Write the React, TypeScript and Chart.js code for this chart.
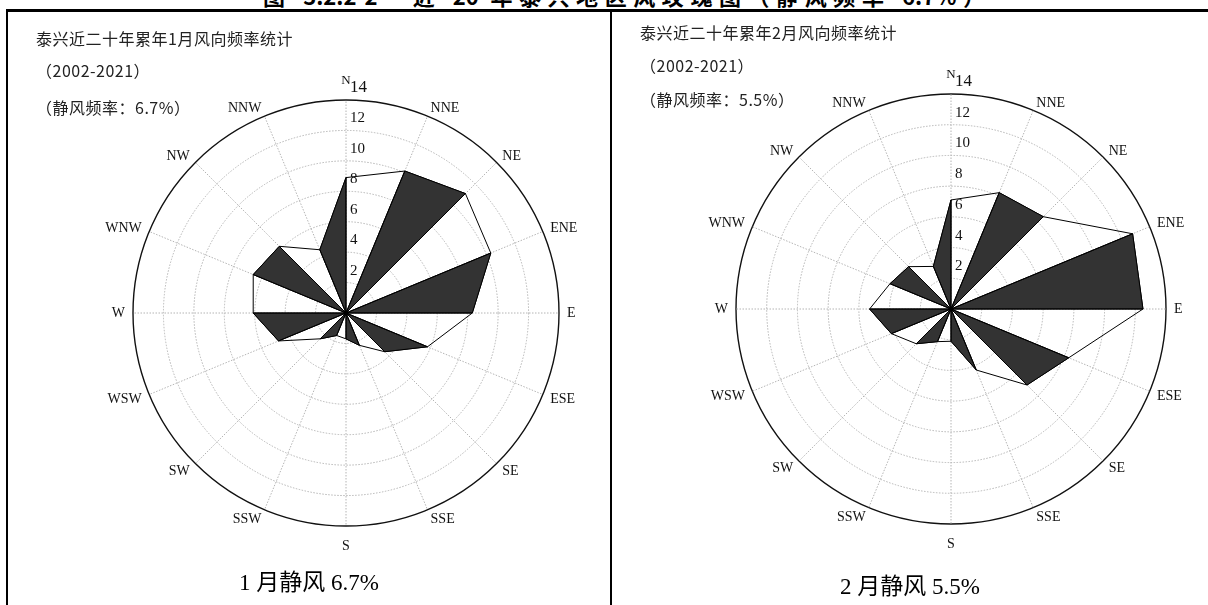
import React, { useEffect, useRef } from "react";
import { Chart, registerables } from "chart.js";

Chart.register(...registerables);

// 16 compass sectors, clockwise from north
const DIRECTIONS = ["N", "NNE", "NE", "ENE", "E", "ESE", "SE", "SSE", "S", "SSW", "SW", "WSW", "W", "WNW", "NW", "NNW"];
// Wind direction frequency (%), Taixing 2002-2021
const JAN_FREQ = [8.9, 10.1, 11.1, 10.3, 8.3, 5.8, 3.6, 2.3, 1.7, 1.6, 2.4, 4.8, 6.1, 6.6, 6.2, 4.5];
const FEB_FREQ = [7.1, 8.2, 8.5, 12.8, 12.5, 8.3, 7.0, 4.3, 2.1, 2.3, 3.2, 4.2, 5.3, 4.3, 3.9, 3.0];
const RING_TICKS = [2, 4, 6, 8, 10, 12, 14];
const AXIS_MAX = 14;
const JAN_CALM = "6.7%";
const FEB_CALM = "5.5%";

const LABEL_FONT = '14px "Liberation Serif", "DejaVu Serif", serif';
const TICK_FONT = '15px "Liberation Serif", "DejaVu Serif", serif';
const CJK = '"Noto Sans CJK SC", "Noto Sans", sans-serif';
const GRID_GREY = "#b4b4b4";

// Alternate sectors filled dark, ring values and compass labels
const roseMarks = {
  id: "roseMarks",
  afterDatasetsDraw(chart: any) {
    const scale = chart.scales.r;
    const values = chart.data.datasets[0].data as number[];
    const ctx = chart.ctx as CanvasRenderingContext2D;
    const n = values.length;
    ctx.save();
    ctx.lineWidth = 1;
    ctx.strokeStyle = "#000";
    ctx.fillStyle = "#333";
    for (let i = 1; i < n; i += 2) {
      const j = (i + 1) % n;
      const a = scale.getPointPositionForValue(i, values[i]);
      const b = scale.getPointPositionForValue(j, values[j]);
      ctx.beginPath();
      ctx.moveTo(scale.xCenter, scale.yCenter);
      ctx.lineTo(a.x, a.y);
      ctx.lineTo(b.x, b.y);
      ctx.closePath();
      ctx.fill();
      ctx.stroke();
    }
    // rays from the centre to every vertex
    ctx.beginPath();
    for (let i = 0; i < n; i++) {
      const p = scale.getPointPositionForValue(i, values[i]);
      ctx.moveTo(scale.xCenter, scale.yCenter);
      ctx.lineTo(p.x, p.y);
    }
    ctx.stroke();
    ctx.beginPath();
    ctx.arc(scale.xCenter, scale.yCenter, 2.5, 0, Math.PI * 2);
    ctx.fillStyle = "#000";
    ctx.fill();
    ctx.restore();
  },
  afterDraw(chart: any) {
    const scale = chart.scales.r;
    const ctx = chart.ctx as CanvasRenderingContext2D;
    const R = scale.drawingArea;
    const cx = scale.xCenter;
    const cy = scale.yCenter;
    ctx.save();
    // ring values, just right of the north spoke
    ctx.fillStyle = "#111";
    ctx.textAlign = "left";
    ctx.textBaseline = "middle";
    RING_TICKS.forEach((v) => {
      const d = scale.getDistanceFromCenterForValue(v);
      ctx.font = v === AXIS_MAX ? '17px "Liberation Serif", serif' : TICK_FONT;
      ctx.fillText(String(v), cx + 4, cy - d - 12);
    });
    // compass labels
    ctx.fillStyle = "#111";
    ctx.font = LABEL_FONT;
    const labels = chart.data.labels as string[];
    labels.forEach((lab, i) => {
      const deg = (i * 360) / labels.length;
      if (deg === 0) {
        ctx.textAlign = "center";
        ctx.textBaseline = "middle";
        ctx.font = '13px "Liberation Serif", serif';
        ctx.fillText(lab, cx, cy - R - 19);
        ctx.font = LABEL_FONT;
        return;
      }
      if (deg === 180) {
        ctx.textAlign = "center";
        ctx.textBaseline = "middle";
        ctx.fillText(lab, cx, cy + R + 20);
        return;
      }
      const p = scale.getPointPosition(i, R + 8);
      ctx.textAlign = deg < 180 ? "left" : "right";
      ctx.textBaseline = "middle";
      const dy = deg > 90 && deg < 270 ? 2 : 0;
      ctx.fillText(lab, p.x, p.y + dy);
    });
    ctx.restore();
  },
};

type RoseProps = {
  values: number[];
  left: number;
  top: number;
  width: number;
  height: number;
  cx: number;
  cy: number;
  radius: number;
};

function WindRose({ values, left, top, width, height, cx, cy, radius }: RoseProps) {
  const ref = useRef<HTMLCanvasElement | null>(null);
  useEffect(() => {
    if (!ref.current) return;
    const chart = new Chart(ref.current, {
      type: "radar",
      data: {
        labels: DIRECTIONS,
        datasets: [
          {
            data: values,
            borderColor: "#000",
            borderWidth: 1,
            backgroundColor: "rgba(0,0,0,0)",
            fill: false,
            pointRadius: 0,
            pointHoverRadius: 0,
            tension: 0,
          },
        ],
      },
      options: {
        responsive: false,
        animation: false,
        events: [],
        layout: {
          padding: {
            left: cx - radius,
            top: cy - radius,
            right: width - cx - radius,
            bottom: height - cy - radius,
          },
        },
        plugins: {
          legend: { display: false },
          tooltip: { enabled: false },
          title: { display: false },
        },
        scales: {
          r: {
            min: 0,
            max: AXIS_MAX,
            ticks: { display: false, stepSize: 2 },
            pointLabels: { display: false },
            grid: {
              circular: true,
              color: (c: any) => (c.tick && c.tick.value === AXIS_MAX ? "#111" : GRID_GREY),
              lineWidth: (c: any) => (c.tick && c.tick.value === AXIS_MAX ? 1.4 : 1),
            },
            border: {
              dash: (c: any) => (c.tick && c.tick.value === AXIS_MAX ? [] : [1.5, 1.5]),
            },
            angleLines: { color: GRID_GREY, lineWidth: 1, borderDash: [1.5, 1.5] },
          },
        },
      } as any,
      plugins: [roseMarks as any],
    });
    return () => chart.destroy();
  }, [values, width, height, cx, cy, radius]);
  return (
    <canvas
      ref={ref}
      width={width}
      height={height}
      style={{ position: "absolute", left, top, width, height }}
    />
  );
}

const txt = (left: number, top: number, s: string) => (
  <div
    style={{
      position: "absolute",
      left,
      top,
      fontFamily: CJK,
      fontSize: 16,
      lineHeight: "16px",
      letterSpacing: 0.5,
      color: "#222",
      whiteSpace: "nowrap",
    }}
  >
    {s}
  </div>
);

const captionStyle = (left: number, width: number, top: number): React.CSSProperties => ({
  position: "absolute",
  left,
  width,
  top,
  textAlign: "center",
  fontFamily: '"Liberation Serif", "Noto Sans CJK SC", serif',
  fontSize: 23,
  lineHeight: "26px",
  color: "#000",
});

export default function App() {
  return (
    <div
      style={{
        position: "fixed",
        left: 0,
        top: 0,
        width: 1208,
        height: 605,
        background: "#fff",
        overflow: "hidden",
      }}
    >
      {/* figure title, mostly cut off by the page top */}
      <div
        style={{
          position: "absolute",
          left: 263,
          width: 722,
          top: -16,
          fontFamily: CJK,
          fontWeight: 700,
          fontSize: 22,
          lineHeight: "22px",
          color: "#000",
          textAlign: "justify",
          textAlignLast: "justify",
          whiteSpace: "nowrap",
        }}
      >
        图 3.2.2-2　近 20 年泰兴地区风玫瑰图（静风频率 6.7%）
      </div>

      {/* table rules */}
      <div style={{ position: "absolute", left: 6, top: 9, width: 1202, height: 3, background: "#000" }} />
      <div style={{ position: "absolute", left: 6, top: 9, width: 2, height: 596, background: "#000" }} />
      <div style={{ position: "absolute", left: 610, top: 9, width: 2, height: 596, background: "#000" }} />

      <WindRose values={JAN_FREQ} left={8} top={13} width={602} height={592} cx={338} cy={300.3} radius={213.3} />
      <WindRose values={FEB_FREQ} left={612} top={13} width={596} height={592} cx={339} cy={296} radius={215.7} />

      {txt(36, 30, "泰兴近二十年累年1月风向频率统计")}
      {txt(36, 62, "（2002-2021）")}
      {txt(36, 99, `（静风频率：${JAN_CALM}）`)}

      {txt(640, 24, "泰兴近二十年累年2月风向频率统计")}
      {txt(640, 57, "（2002-2021）")}
      {txt(640, 91, `（静风频率：${FEB_CALM}）`)}

      <div style={captionStyle(8, 602, 570)}>1 月静风 {JAN_CALM}</div>
      <div style={captionStyle(612, 596, 574)}>2 月静风 {FEB_CALM}</div>
    </div>
  );
}
